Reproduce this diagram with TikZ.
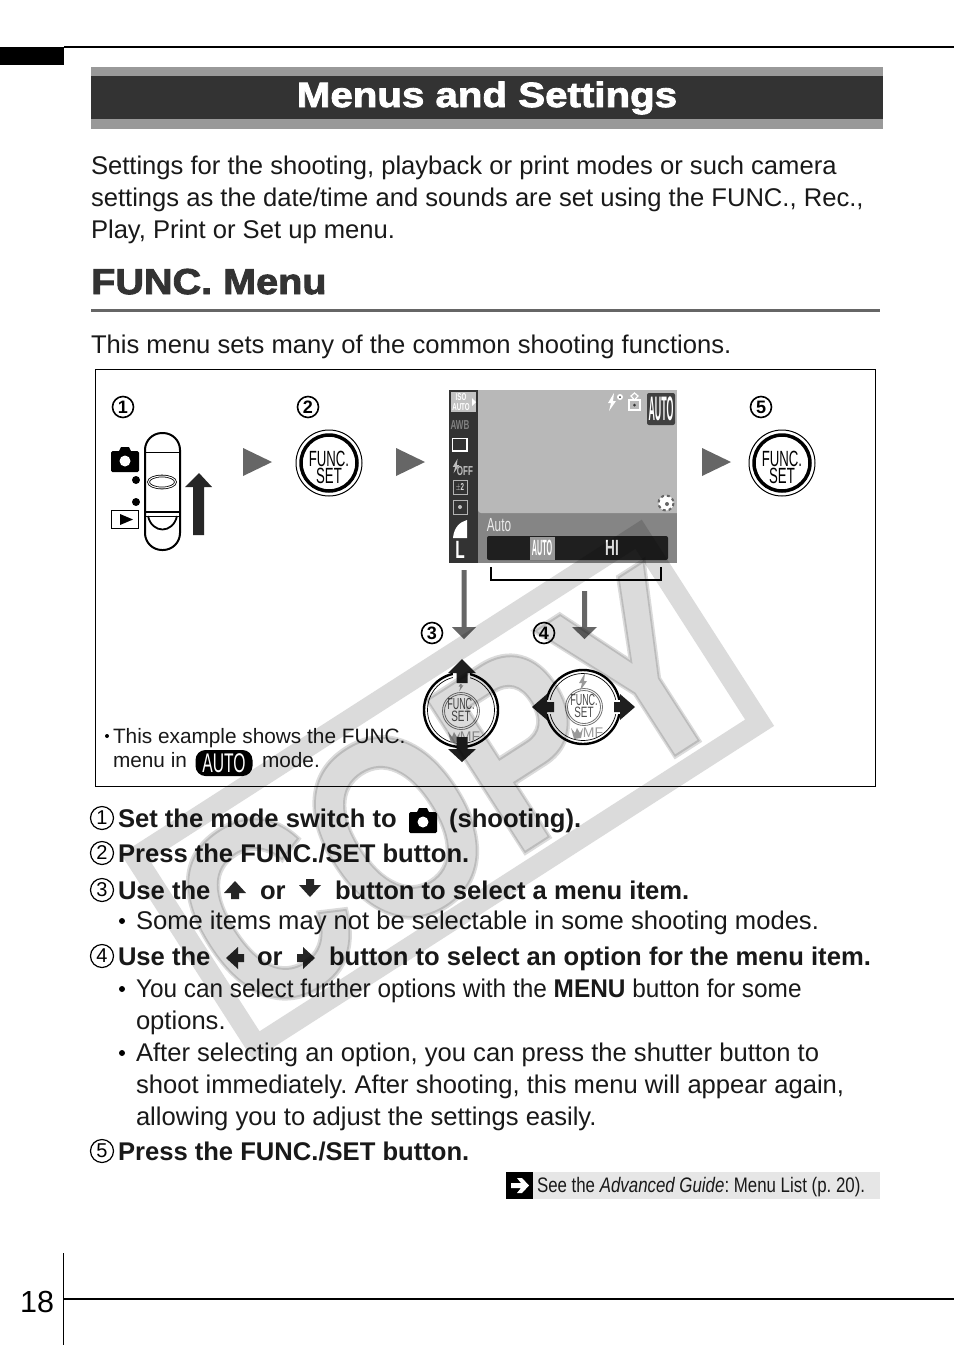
\documentclass[tikz,border=0pt]{standalone}
\usepackage{fontspec}
\setmainfont{Liberation Sans}
\newfontfamily\headfont[UprightFont={* Bold},FakeBold=2.5,FakeStretch=1.15]{Liberation Sans}
\newfontfamily\subfont[UprightFont={* Bold},FakeBold=2.5,FakeStretch=1.1]{Liberation Sans}
\newfontfamily\stampfont[UprightFont={* Bold},FakeBold=1.5]{Liberation Sans}
\usetikzlibrary{positioning}
\usetikzlibrary{calc}
\definecolor{barDark}{HTML}{333333}
\definecolor{barGray}{HTML}{999999}
\definecolor{tipGray}{HTML}{666666}
\definecolor{lcdGray}{HTML}{B8B8B8}
\definecolor{lcdBand}{HTML}{858585}
\definecolor{seeGray}{HTML}{E6E6E6}
\newcommand{\sz}[1]{\fontsize{#1}{#1}\selectfont}
\tikzset{
  txt/.style={anchor=base west,inner sep=0pt,outer sep=0pt,font=\sz{25.6},text=black!90},
  stepline/.style={txt,font=\sz{25.6}\bfseries},
  notetxt/.style={txt,font=\sz{20.8}},
  lcdtxt/.style={inner sep=0pt,text=white,font=\sz{#1}\bfseries,xscale=.62,transform shape},
  numA/.style={circle,draw,line width=1.6pt,minimum size=21pt,inner sep=0pt,font=\sz{18}\bfseries},
  numB/.style={circle,draw,line width=1.2pt,minimum size=23pt,inner sep=0pt,font=\sz{20}},
  pics/funcset/.style={code={
    \draw[line width=1pt,draw=#1,fill=white] (0,0) circle (33);
    \draw[line width=3.5pt,draw=#1] (0,0) circle (28);
    \node[anchor=base,inner sep=0pt,text=#1,xscale=.6,transform shape,font=\sz{22}] at (0,3) {FUNC.};
    \node[anchor=base,inner sep=0pt,text=#1,xscale=.6,transform shape,font=\sz{22}] at (0,20) {SET};
  }},
  pics/funcsmall/.style={code={
    \draw[line width=.8pt,draw=black!55,fill=white] (0,0) circle (18.5);
    \draw[line width=.8pt,draw=black!55] (0,0) circle (16.5);
    \node[anchor=base,inner sep=0pt,text=black!70,xscale=.56,transform shape,font=\sz{16}] at (0,-2) {FUNC.};
    \node[anchor=base,inner sep=0pt,text=black!70,xscale=.66,transform shape,font=\sz{15}] at (0,10) {SET};
  }},
  pics/camicon/.style={code={
    \fill[black,rounded corners=1.5] (-14,-9) rectangle (14,12);
    \fill[black] (-6,-9) -- (-4,-13) -- (4,-13) -- (6,-9) -- cycle;
    \fill[white] (0,1) circle (5.5);
  }},
  pics/upfat/.style={code={
    \fill[#1] (0,-10) -- (11,2) -- (4,2) -- (4,8) -- (-4,8) -- (-4,2) -- (-11,2) -- cycle;
  }},
  pics/mfmark/.style={code={
    \node[inner sep=0pt,text=#1,font=\sz{14}] at (9,0) {MF};
    \fill[#1] (-13,-5) -- (-9,0) -- (-7,-5) -- (-4,0) -- (-1,-5) -- (-3,5) -- (-10,6) -- cycle;
  }},
  pics/flashmark/.style={code={
    \fill[#1] (2,-9) -- (-4,1) -- (-1,1) -- (-3,9) -- (4,-1) -- (1,-1) -- cycle;
  }}
}
\begin{document}
\frenchspacing
\begin{tikzpicture}[x=1pt,y=-1pt]
  \useasboundingbox (0,0) rectangle (954,1345);
  \fill[white] (0,0) rectangle (954,1345);
  % page head
  \draw[line width=2pt] (64,47) -- (954,47);
  \fill[black] (0,47) rectangle (64,65);
  \fill[barGray] (91,67) rectangle (883,129);
  \fill[barDark] (91,76) rectangle (883,119);
  \node[anchor=base,inner sep=0pt,text=white,font=\headfont\sz{35}] (title) at (487,107) {Menus and Settings};
  \node[txt] (para1) at (91,174) {Settings for the shooting, playback or print modes or such camera};
  \node[txt] (para2) at (91,206) {settings as the date/time and sounds are set using the FUNC., Rec.,};
  \node[txt] (para3) at (91,238) {Play, Print or Set up menu.};
  \node[anchor=base west,inner sep=0pt,font=\subfont\sz{36},text=barDark] (head) at (91,294) {FUNC. Menu};
  \draw[line width=3pt,tipGray] (91,310) -- (880,310);
  \node[txt] (intro) at (91,353) {This menu sets many of the common shooting functions.};
  % figure box
  \draw[line width=1pt] (95.5,369.5) rectangle (875.5,786.5);
  \node[numA] (n1) at (123,407) {1};
  \node[numA] (n2) at (308,407) {2};
  \node[numA] (n3) at (432,633) {3};
  \node[numA] (n4) at (544,633) {4};
  \node[numA] (n5) at (761,407) {5};
  % mode switch
  \draw[line width=2pt,rounded corners=17] (145,433) rectangle (180,550);
  \draw[line width=.8pt] (146,452) -- (179,452);
  \draw[line width=2pt] (146,512) -- (179,512);
  \draw[line width=.8pt] (146,516) -- (179,516);
  \draw[line width=1.8pt] (148,516) .. controls (152,534) and (173,534) .. (177,516);
  \draw[line width=.8pt,double distance=1pt] (162,482) ellipse (13.5 and 6);
  \pic at (125,460) {camicon};
  \fill (136,480) circle (4);
  \fill (136,502) circle (4);
  \draw[line width=1.8pt] (111.5,510.5) rectangle (138.5,528.5);
  \fill (120,514) -- (133,519.5) -- (120,525) -- cycle;
  \fill[black!85] (199,473) -- (212,487) -- (204,487) -- (204,535) -- (193,535) -- (193,487) -- (185,487) -- cycle;
  % gray tips
  \foreach \tx in {243,396,702}
    \fill[tipGray] (\tx,448) -- (\tx+29,462) -- (\tx,476) -- cycle;
  \pic at (329,463) {funcset=black};
  \pic at (782,463) {funcset=black};
  % lcd screen
  \fill[lcdBand] (449,390) rectangle (677,563);
  \fill[barDark] (449,390) rectangle (478,563);
  \fill[lcdGray,rounded corners=3] (478,385) -- (478,513) -- (682,513) -- (682,385) -- cycle;
  \fill[white] (445,385) rectangle (690,390);
  \fill[white] (677,385) rectangle (690,520);
  \fill[barGray!60] (451,392) rectangle (476,412);
  \node[lcdtxt=10] (lcdiso) at (461,397) {ISO};
  \node[lcdtxt=10] (lcdaut) at (461,407) {AUTO};
  \fill[white] (472,398) -- (476,402) -- (472,406) -- cycle;
  \node[lcdtxt=13,text=black!50] (lcdawb) at (460,425) {AWB};
  \draw[line width=1.5pt,white] (452.5,438.5) rectangle (467,451);
  \pic[scale=.8] at (456,466) {flashmark=white!75!black};
  \node[lcdtxt=13,text=white!75!black] (lcdoff) at (465,471) {OFF};
  \draw[line width=1pt,white!70!black] (453,480) rectangle (467,494);
  \node[lcdtxt=10,text=white!85!black] (lcdexp) at (460,487) {$\pm$2};
  \draw[line width=1pt,white!70!black] (453,500) rectangle (467,514);
  \fill[white!75!black] (460,507) circle (2);
  \fill[white] (453,538) .. controls (454,527) and (460,522) .. (467,520) -- (467,538) -- cycle;
  \node[lcdtxt=25,text=white] (lcdL) at (460,550) {L};
  \node[lcdtxt=19,font=\sz{19},text=white!92!black] (lcdAuto) at (499,525) {Auto};
  \fill[black!88,rounded corners=2] (487,536) rectangle (668,560);
  \fill[barGray] (530,537) rectangle (555,560);
  \node[lcdtxt=22,xscale=.53] (lcdsel) at (542,548) {AUTO};
  \node[lcdtxt=22] (lcdhi) at (612,548) {HI};
  \fill[black!75,rounded corners=2] (647,393) rectangle (675,425);
  \node[lcdtxt=34,xscale=.42] (lcdmode) at (661,409) {AUTO};
  \draw[white,line width=1.2pt] (629,400) rectangle (640,410);
  \draw[white,line width=1.2pt] (634.5,400) -- (631,396) -- (634.5,393) -- (638,396) -- cycle;
  \fill[barDark] (634.5,405) circle (1.5);
  \pic at (612,402) {flashmark=white};
  \fill[white] (620,397) circle (3);
  \fill[barDark] (620,397) circle (1);
  \draw[black!60,dashed,line width=2pt,fill=white] (666,503) circle (7.5);
  \fill[black!60] (667,504) circle (2);
  % arrows to the dial
  \coordinate (ar3a) at (464,570);
  \coordinate (ar4a) at (584.5,591);
  \fill[tipGray] (ar3a)+(-2.5,0) -- ++(2.5,0) -- (466.5,627) -- (476,627) -- (464,639) -- (452,627) -- (461.5,627) -- cycle;
  \fill[tipGray] (ar4a)+(-2.5,0) -- ++(2.5,0) -- (587,627) -- (597,627) -- (584.5,639) -- (572,627) -- (582,627) -- cycle;
  \draw[line width=1.6pt] (491,567) -- (491,580) -- (661,580) -- (661,567);
  % dial up down
  \fill[white] (461,710) circle (38);
  \draw[line width=2.4pt] (461,710) circle (37);
  \draw[line width=.7pt] (461,710) circle (33.5);
  \pic at (461,711) {funcsmall};
  \pic[scale=.6] at (461,686) {flashmark=barGray};
  \pic at (461,737) {mfmark=barGray};
  \fill[white] (453,672) rectangle (470,684);
  \fill[black!88] (462,659) -- (476,673) -- (467.5,673) -- (467.5,683) -- (456.5,683) -- (456.5,673) -- (448,673) -- cycle;
  \fill[black!88] (462,762) -- (476,749) -- (467.5,749) -- (467.5,737) -- (456.5,737) -- (456.5,749) -- (448,749) -- cycle;
  % dial left right
  \fill[white] (583,707) circle (38);
  \draw[line width=2.4pt] (583,707) circle (37);
  \draw[line width=.7pt] (583,707) circle (33.5);
  \pic at (584,707) {funcsmall};
  \pic at (583,682) {flashmark=barGray};
  \pic at (584,733) {mfmark=barGray};
  \fill[white] (545,700) rectangle (556,714);
  \fill[white] (612,700) rectangle (622,714);
  \fill[black!88] (532,707) -- (547,694) -- (547,702) -- (554,702) -- (554,712) -- (547,712) -- (547,720) -- cycle;
  \fill[black!88] (635,707) -- (620,694) -- (620,702) -- (614,702) -- (614,712) -- (620,712) -- (620,720) -- cycle;
  % note
  \fill (107,736) circle (2);
  \node[notetxt] (note1) at (113,743) {This example shows the FUNC.};
  \node[notetxt] (note2) at (113,767) {menu in};
  \node[fill=black,rounded corners=10,minimum width=57pt,minimum height=26pt,inner sep=0pt] (autopill) at (224,763) {};
  \node[inner sep=0pt,text=white,font=\sz{27},xscale=.58,transform shape] (autotxt) at (224,763) {AUTO};
  \node[notetxt] (note3) at (262,767) {mode.};
  % steps
  \node[numB] (s1) at (102,818) {1};
  \node[stepline] (st1) at (118,827) {Set the mode switch to};
  \pic at (423,821) {camicon};
  \node[stepline] (st1b) at (449,827) {(shooting).};
  \node[numB] (s2) at (102,853) {2};
  \node[stepline] (st2) at (118,862) {Press the FUNC./SET button.};
  \node[numB] (s3) at (102,890) {3};
  \node[stepline] (st3) at (118,899) {Use the};
  \pic at (235,891) {upfat=black!85};
  \node[stepline] (st3b) at (260,899) {or};
  \pic[yscale=-1] at (310,887) {upfat=black!85};
  \node[stepline] (st3c) at (335,899) {button to select a menu item.};
  \fill (122,921) circle (3);
  \node[txt] (b3) at (136,929) {Some items may not be selectable in some shooting modes.};
  \node[numB] (s4) at (102,956) {4};
  \node[stepline] (st4) at (118,965) {Use the};
  \pic[rotate=90] at (236,958) {upfat=black!85};
  \node[stepline] (st4b) at (257,965) {or};
  \pic[rotate=-90] at (305,958) {upfat=black!85};
  \node[stepline] (st4c) at (329,965) {button to select an option for the menu item.};
  \fill (122,989) circle (3);
  \node[txt,xscale=.952,transform shape] (b4a) at (136,997) {You can select further options with the \textbf{MENU} button for some};
  \node[txt] (b4b) at (136,1029) {options.};
  \fill (122,1053) circle (3);
  \node[txt] (b4c) at (136,1061) {After selecting an option, you can press the shutter button to};
  \node[txt] (b4d) at (136,1093) {shoot immediately. After shooting, this menu will appear again,};
  \node[txt] (b4e) at (136,1125) {allowing you to adjust the settings easily.};
  \node[numB] (s5) at (102,1151) {5};
  \node[stepline] (st5) at (118,1160) {Press the FUNC./SET button.};
  % see also
  \fill[seeGray] (506,1172) rectangle (880,1199);
  \fill[black] (506,1172) rectangle (533,1199);
  \fill[white] (511,1183) -- (521,1183) -- (517,1178) -- (522,1178) -- (529,1185.5) -- (522,1193) -- (517,1193) -- (521,1188) -- (511,1188) -- cycle;
  \node[txt,font=\sz{21},xscale=.803,transform shape] (see) at (537,1192) {See the \textit{Advanced Guide}: Menu List (p. 20).};
  % foot
  \node[anchor=base west,inner sep=0pt,font=\sz{30.5}] (page) at (20,1312) {18};
  \draw[line width=1pt] (63.5,1253) -- (63.5,1345);
  \draw[line width=2pt] (64,1299) -- (954,1299);
  % stamp
  \begin{scope}[shift={(447.5,790)},rotate=32.7]
    \draw[line width=21pt,black,opacity=.14] (-299,-112) rectangle (299,112);
    \node[anchor=base,inner sep=0pt,text=black,text opacity=.14,font=\stampfont\sz{265},xscale=.78,transform shape] (stamp) at (0,95) {COPY};
  \end{scope}
\end{tikzpicture}
\end{document}
